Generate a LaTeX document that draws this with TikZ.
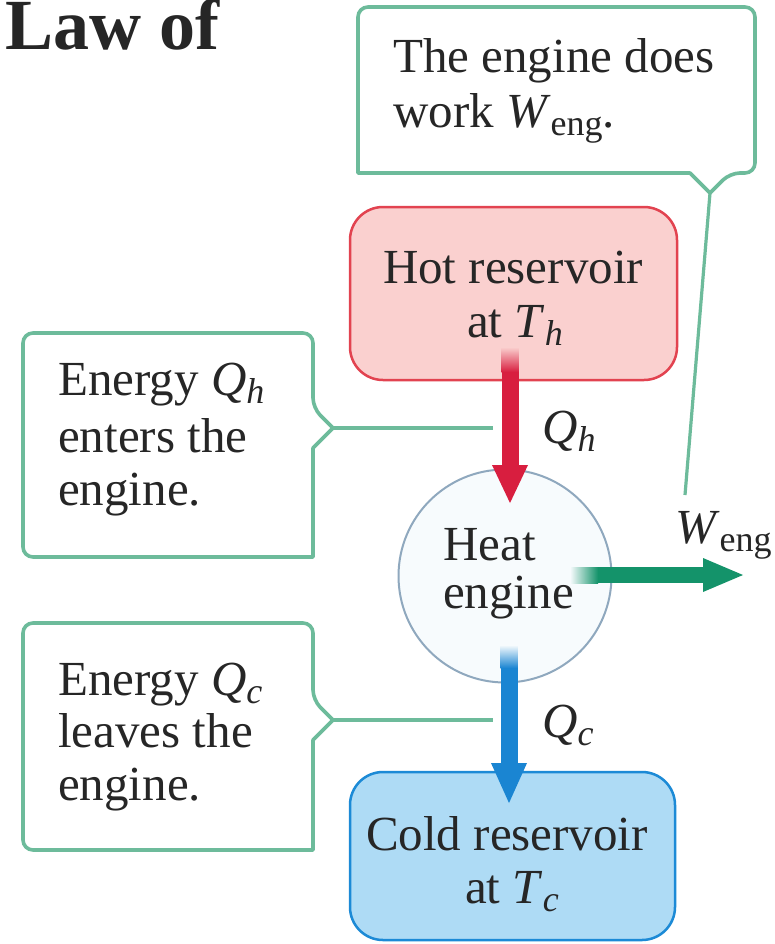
\documentclass[tikz,border=0pt]{standalone}
\usepackage{fontspec}
\setmainfont{Liberation Serif}
\usetikzlibrary{calc}
\definecolor{txt}{HTML}{262626}
\definecolor{callg}{HTML}{6DBB9B}
\definecolor{hotfill}{HTML}{FAD0CF}
\definecolor{hotdraw}{HTML}{E24350}
\definecolor{coldfill}{HTML}{AEDBF5}
\definecolor{colddraw}{HTML}{1C8AD6}
\definecolor{engdraw}{HTML}{8FA8BE}
\definecolor{engfill}{HTML}{F7FBFD}
\definecolor{redarr}{HTML}{D81E3F}
\definecolor{bluearr}{HTML}{1A85D2}
\definecolor{greenarr}{HTML}{14936A}
\newcommand{\mysubs}[1]{\raisebox{-8pt}{\fontsize{36}{36}\selectfont #1}}
\newcommand{\qsym}[2]{\textit{#1}\mysubs{\textit{#2}}}
\tikzset{
  lbl/.style={inner sep=0pt, text=txt, font=\fontsize{49}{54}\selectfont},
  callout/.style={draw=callg, line width=3.6pt, fill=white, line join=round},
  pointer/.style={draw=callg, line width=3.2pt},
  reservoir/.style={rectangle, rounded corners=33pt, line width=2.5pt, inner sep=0pt},
}
\begin{document}
\begin{tikzpicture}[x=1pt,y=-1pt]
\useasboundingbox (0,0) rectangle (774,944);
\fill[white] (0,0) rectangle (774,944);

% title
\node[lbl, anchor=base west, font=\fontsize{72}{72}\selectfont\bfseries] (title) at (5,50) {Law of};

% callouts
\coordinate (ttip) at (710,193);
\coordinate (tend) at (685,495);
\draw[callout] (ttip) -- (690,173) -- (358,173) [rounded corners=10pt] -- (358,7) -- (755,7) -- (755,173) -- (730,173) [sharp corners] -- cycle;
\coordinate (c1tip) at (333,428);
\coordinate (c1end) at (493,428);
\draw[callout] (c1tip) -- (313,448) -- (313,557) [rounded corners=10pt] -- (23,557) -- (23,333) -- (313,333) -- (313,408) [sharp corners] -- cycle;
\coordinate (c2tip) at (333,720);
\coordinate (c2end) at (493,720);
\draw[callout] (c2tip) -- (313,740) -- (313,850) [rounded corners=10pt] -- (23,850) -- (23,623) -- (313,623) -- (313,700) [sharp corners] -- cycle;
\draw[pointer] (ttip) -- (tend);
\draw[pointer] (c1tip) -- (c1end);
\draw[pointer] (c2tip) -- (c2end);

% reservoirs and engine
\node[reservoir, draw=hotdraw, fill=hotfill, minimum width=327pt, minimum height=173pt] (hot) at (513.5,293.5) {};
\node[reservoir, draw=colddraw, fill=coldfill, minimum width=325pt, minimum height=168pt] (cold) at (512.5,856) {};
\node[circle, draw=engdraw, fill=engfill, line width=2pt, minimum size=213pt, inner sep=0pt] (eng) at (505,576) {};

% red arrow hot -> engine
\coordinate (hA) at (510,347);
\coordinate (hB) at (510,372);
\coordinate (hC) at (510,503);
\shade[top color=hotfill, bottom color=redarr] ($(hA)+(-8.5,0)$) rectangle ($(hB)+(8.5,0)$);
\fill[redarr] ($(hB)+(-8.5,-0.5)$) rectangle ($(hC)+(8.5,-37)$);
\fill[redarr] ($(hC)+(-18,-38)$) -- (hC) -- ($(hC)+(18,-38)$) -- cycle;

% blue arrow engine -> cold
\coordinate (cA) at (509,645);
\coordinate (cB) at (509,668);
\coordinate (cC) at (509,803);
\shade[top color=engfill, bottom color=bluearr] ($(cA)+(-8.5,0)$) rectangle ($(cB)+(8.5,0)$);
\fill[bluearr] ($(cB)+(-8.5,-0.5)$) rectangle ($(cC)+(8.5,-39)$);
\fill[bluearr] ($(cC)+(-18,-40)$) -- (cC) -- ($(cC)+(18,-40)$) -- cycle;

% green arrow engine -> work
\coordinate (wA) at (570,575);
\coordinate (wB) at (598,575);
\coordinate (wC) at (743,575);
\shade[left color=engfill, right color=greenarr] ($(wA)+(0,-8)$) rectangle ($(wB)+(0,8)$);
\fill[greenarr] ($(wB)+(-0.5,-8)$) rectangle ($(wC)+(-39,8)$);
\fill[greenarr] ($(wC)+(-40,-17)$) -- (wC) -- ($(wC)+(-40,17)$) -- cycle;

% texts
\node[lbl, anchor=base west] (t1) at (393,73) {The engine does};
\node[lbl, anchor=base west] (t2) at (393,128) {work \textit{W}\mysubs{eng}.};
\node[lbl, anchor=base west] (l1a) at (58,395) {Energy \qsym{Q}{h}};
\node[lbl, anchor=base west] (l1b) at (58,452) {enters the};
\node[lbl, anchor=base west] (l1c) at (58,505) {engine.};
\node[lbl, anchor=base west] (l2a) at (58,695) {Energy \qsym{Q}{c}};
\node[lbl, anchor=base west] (l2b) at (58,747) {leaves the};
\node[lbl, anchor=base west] (l2c) at (58,800) {engine.};
\node[lbl, anchor=base] (h1) at (513,283) {Hot reservoir};
\node[lbl, anchor=base] (h2) at (515,337) {at \qsym{T}{h}};
\node[lbl, anchor=base] (k1) at (507,850) {Cold reservoir};
\node[lbl, anchor=base] (k2) at (512,903) {at \qsym{T}{c}};
\node[lbl, anchor=base west] (e1) at (443,560) {Heat};
\node[lbl, anchor=base west] (e2) at (443,608) {engine};
\node[lbl, anchor=base west] (qh) at (542,443) {\qsym{Q}{h}};
\node[lbl, anchor=base west] (qc) at (542,737) {\qsym{Q}{c}};
\node[lbl, anchor=base west] (we) at (675,543) {\textit{W}\mysubs{eng}};
\end{tikzpicture}
\end{document}
